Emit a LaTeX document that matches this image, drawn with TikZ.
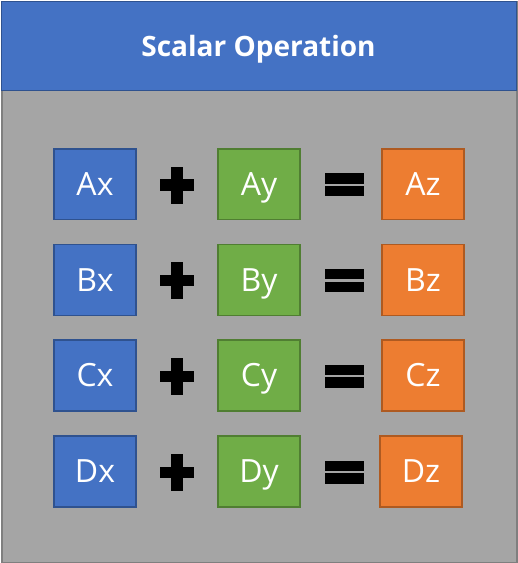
\documentclass[tikz,border=0pt]{standalone}
\usepackage{fontspec}
\setmainfont{Open Sans}
\definecolor{cblue}{HTML}{4472C4}
\definecolor{cblueb}{HTML}{2F528F}
\definecolor{cgreen}{HTML}{70AD47}
\definecolor{cgreenb}{HTML}{507E32}
\definecolor{corange}{HTML}{ED7D31}
\definecolor{coranb}{HTML}{AE5A21}
\definecolor{cgray}{HTML}{A5A5A5}
\definecolor{cgrayb}{HTML}{7F7F7F}
\begin{document}
\begin{tikzpicture}[x=0.75pt,y=-0.75pt,
  cell/.style={draw, line width=1.1pt, minimum width=61.5pt, minimum height=53pt,
    text=white, font=\fontsize{24}{28}\selectfont, text height=17.2pt, text depth=0pt, inner sep=0pt},
  xcell/.style={cell, fill=cblue, draw=cblueb},
  ycell/.style={cell, fill=cgreen, draw=cgreenb},
  zcell/.style={cell, fill=corange, draw=coranb},
  plussign/.pic={\fill[black] (-17,-5.7) rectangle (17,5.7); \fill[black] (-6,-18.5) rectangle (6,18.5);},
  eqsign/.pic={\fill[black] (-19.5,-11.5) rectangle (19.5,-1.3); \fill[black] (-19.5,1.3) rectangle (19.5,11.5);}
]
\useasboundingbox (0,0) rectangle (517,563);
\node[draw=cgrayb, fill=cgray, line width=1.5pt, minimum width=386pt, minimum height=420.5pt, inner sep=0pt, anchor=north west] (frame) at (1,1) {};
\node[draw=cblueb, fill=cblue, line width=1.1pt, minimum width=386pt, minimum height=66.5pt, inner sep=0pt, anchor=north west] (titlebar) at (1,1) {};
\node[text=white, font=\bfseries\fontsize{21}{25}\selectfont, anchor=base] (title) at (258.5,56.5) {Scalar Operation};

\foreach \r/\y in {A/184.3, B/280, C/375.5, D/471.5}{
  \node[xcell] (\r x) at (95,\y) {\r x};
  \node[ycell] (\r y) at (259,\y) {\r y};
  \pic (\r plus) at (176.7,\y+0.7) {plussign};
  \pic (\r eq) at (344.7,\y+0.5) {eqsign};
}
\node[zcell] (Az) at (423,184.3) {Az};
\node[zcell] (Bz) at (423,280) {Bz};
\node[zcell] (Cz) at (423,375.5) {Cz};
\node[zcell] (Dz) at (421,471.5) {Dz};
\end{tikzpicture}
\end{document}
